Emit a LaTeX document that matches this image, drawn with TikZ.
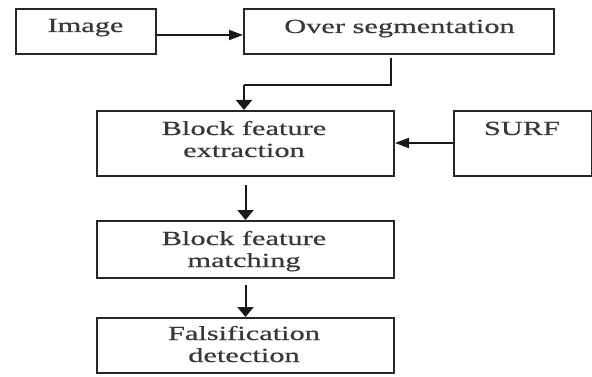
\documentclass[tikz,border=0pt]{standalone}
\usepackage{fontspec}
\setmainfont{Liberation Serif}[FakeStretch=1.52,FakeBold=0.6]
\usetikzlibrary{arrows.meta,calc}
\begin{document}
\begin{tikzpicture}[x=1pt,y=-1pt,
  box/.style={draw=black!85,line width=2pt,inner sep=0pt},
  lbl/.style={anchor=base,inner sep=0pt,text=black!78,font=\fontsize{20}{22}\selectfont},
  arr/.style={line width=2pt,draw=black!90,-{Triangle[length=10pt,width=16pt]}}]
\useasboundingbox (0,0) rectangle (592,377);
\node[box,minimum width=140pt,minimum height=45pt,anchor=north west] (img) at (15,8) {};
\node[lbl] (timg) at (85.5,32) {Image};
\node[box,minimum width=310pt,minimum height=45pt,anchor=north west] (seg) at (243,8) {};
\node[lbl] (tseg) at (399.5,33) {Over segmentation};
\node[box,minimum width=297pt,minimum height=65pt,anchor=north west] (ext) at (96,110) {};
\node[lbl] (text1) at (244,135) {Block feature};
\node[lbl] (text2) at (244,157) {extraction};
\node[box,minimum width=138pt,minimum height=65pt,anchor=north west] (surf) at (453,110) {};
\node[lbl] (tsurf) at (522,135) {SURF};
\node[box,minimum width=297pt,minimum height=57pt,anchor=north west] (mat) at (96,220) {};
\node[lbl] (tmat1) at (244,245) {Block feature};
\node[lbl] (tmat2) at (244,267) {matching};
\node[box,minimum width=297pt,minimum height=55pt,anchor=north west] (fal) at (96,317) {};
\node[lbl] (tfal1) at (244,340) {Falsification};
\node[lbl] (tfal2) at (244,362) {detection};
\coordinate (c0) at (391,58);
\coordinate (c1) at (391,85);
\coordinate (c2) at (244,85);
\draw[arr,-{Triangle[length=14pt,width=10pt]}] (img.east |- 0,35) -- (seg.west |- 0,35);
\draw[line width=2pt,draw=black!90] (c0) -- (c1) -- (c2);
\draw[arr] (c2) -- (c2 |- ext.north);
\draw[arr,-{Triangle[length=14pt,width=10pt]}] (surf.west |- 0,143) -- (ext.east |- 0,143);
\draw[arr] ($(ext.south)+(0,8)$) -- (mat.north);
\draw[arr] ($(mat.south)+(0,6)$) -- (fal.north);
\end{tikzpicture}
\end{document}
